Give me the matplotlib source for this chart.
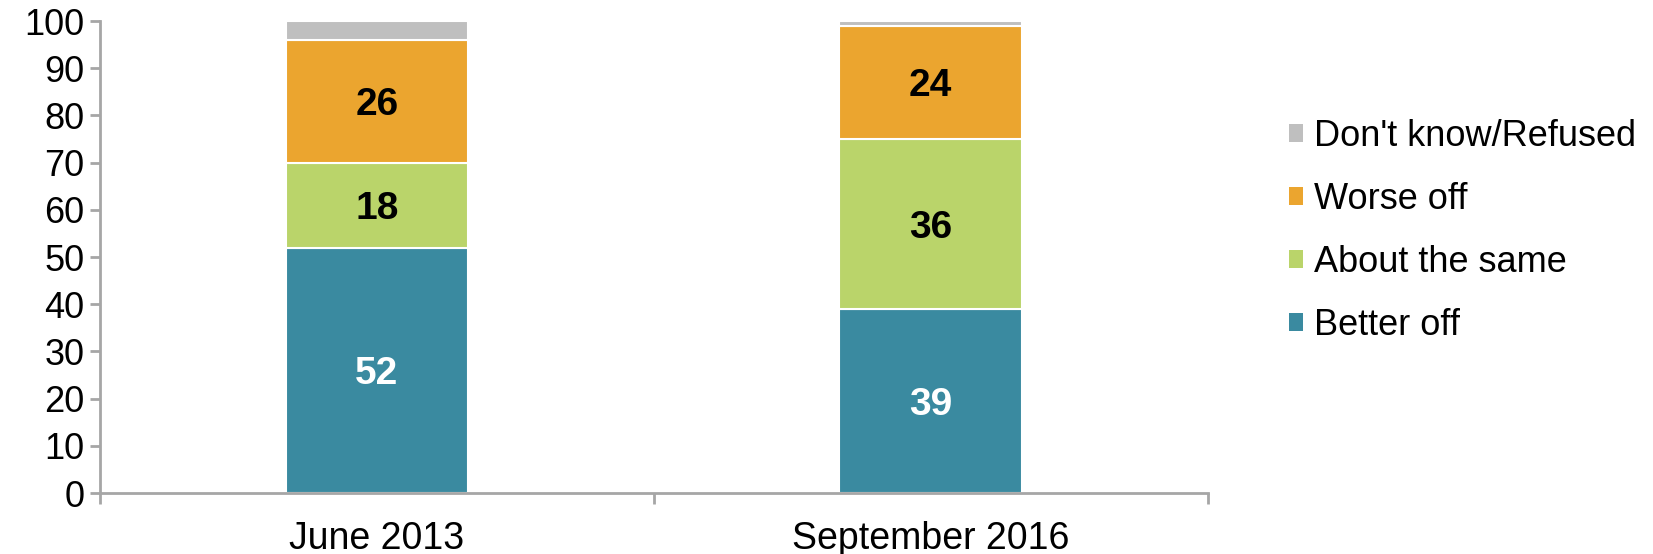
import matplotlib.pyplot as plt
from matplotlib.patches import Patch

# survey waves
periods = ["June 2013", "September 2016"]

# percent of respondents per answer, stacked bottom to top
better_off = [52, 39]
about_same = [18, 36]
worse_off = [26, 24]
dont_know = [4, 1]

series = [
    ("Better off", better_off, "#3A8AA0", "white"),
    ("About the same", about_same, "#BAD46A", "black"),
    ("Worse off", worse_off, "#EBA52F", "black"),
    ("Don't know/Refused", dont_know, "#BFBFBF", None),
]

plt.rcParams['font.family'] = ['Liberation Sans', 'DejaVu Sans']

fig = plt.figure(figsize=(16.53, 5.54), dpi=100)
ax = fig.add_axes([0.0605, 0.110, 0.670, 0.852])

x = list(range(len(periods)))
bottoms = [0] * len(periods)
handles = []
for name, vals, color, txt_color in series:
    ax.bar(x, vals, width=0.33, bottom=bottoms, color=color,
           edgecolor="white", linewidth=1.5)
    if txt_color is not None:
        for xi, b, v in zip(x, bottoms, vals):
            ax.text(xi, b + v / 2, str(v), ha="center", va="center_baseline",
                    fontsize=28, fontweight="bold", color=txt_color)
    bottoms = [b + v for b, v in zip(bottoms, vals)]
    handles.append(Patch(facecolor=color, label=name))

ax.set_xlim(-0.5, 1.5)
ax.set_ylim(0, 100)
ax.set_yticks(range(0, 101, 10))

ax.set_xticks(x)
ax.set_xticklabels(periods)
ax.set_xticks([-0.5, 0.5, 1.5], minor=True)
ax.tick_params(axis="x", which="major", length=0, pad=20, labelsize=27)
ax.tick_params(axis="x", which="minor", length=8, width=2, color="#A6A6A6")
ax.tick_params(axis="y", length=7, width=2, color="#A6A6A6", pad=4, labelsize=26)

for side in ["top", "right"]:
    ax.spines[side].set_visible(False)
for side in ["left", "bottom"]:
    ax.spines[side].set_color("#A6A6A6")
    ax.spines[side].set_linewidth(2)

fig.legend(handles=handles[::-1], loc="upper left",
           bbox_to_anchor=(0.771, 0.812), frameon=False, fontsize=26,
           handlelength=0.4, handleheight=0.4, handletextpad=0.3,
           labelspacing=0.78, borderaxespad=0)

fig.savefig("out.png", dpi=100)
